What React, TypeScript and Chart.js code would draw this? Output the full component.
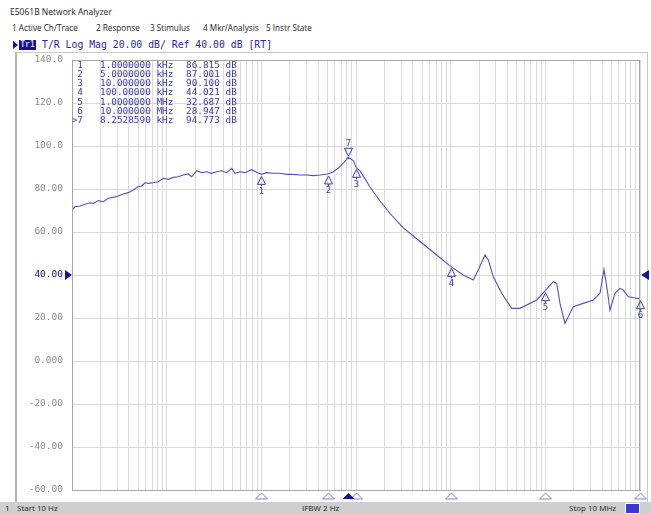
import React, { useEffect, useRef } from "react";
import { Chart, registerables } from "chart.js";

Chart.register(...registerables);

// ---------- data ----------
const freqHz = [
  10, 10.8, 12.1, 13.7, 15.5, 16.8, 19.0, 21.4, 24.2, 27.3, 30.8, 34.8, 39.3, 44.4, 50.1, 54.5, 59.0, 64.0, 72.2, 81.6,
  92.1, 104, 117.5, 132.7, 149.9, 169.2, 183.9, 207.6, 234.4, 264.7, 299, 337.7, 381.3, 430.6, 486.3, 526.9, 595.1, 672,
  791, 893, 1000, 1139, 1337, 1574, 1853, 2176, 2561, 3014, 3538, 4165, 5000, 5757, 6774, 7973, 8252.859, 9363, 10000,
  11020, 12450, 14050, 17920, 22860, 31600, 47430, 71170, 100000, 135900, 173400, 195700, 230400, 249700, 281900, 345900,
  441000, 539800, 810300, 1000000, 1214000, 1318000, 1428000, 1613000, 1974000, 2517000, 3210000, 3778000, 4165000,
  4512000, 4820000, 5441000, 6145000, 6658000, 7517000, 9222000, 10000000,
];
const magDb = [
  70.2, 71.8, 72.1, 72.9, 73.6, 73.3, 74.6, 74.1, 75.7, 76.1, 76.7, 77.7, 78.3, 79.5, 81.1, 81.4, 82.9, 82.6, 82.9, 83.4,
  85.0, 84.5, 85.4, 85.7, 86.5, 87.0, 85.7, 88.5, 87.6, 88.0, 87.3, 88.0, 88.5, 87.6, 89.6, 87.3, 88.0, 87.6,
  89.0, 87.8, 86.815, 87.6, 87.3, 87.3, 86.8, 86.8, 86.5, 86.5, 86.2, 86.5, 87.001, 88.0, 90.4, 93.8, 94.773, 93.2, 90.1,
  88.4, 84.7, 80.9, 74.4, 68.6, 61.9, 55.6, 49.3, 44.021, 40.0, 37.7, 42.3, 49.3, 47.0, 39.2, 31.5,
  24.5, 24.5, 28.4, 32.687, 36.9, 36.1, 26.8, 17.5, 25.3, 26.8, 28.4, 31.5, 42.6,
  33.0, 23.7, 31.5, 33.8, 33.0, 29.9, 29.2, 28.947,
];

const markerIds = ["1", "2", "3", "4", "5", "6", "7"];
const markerFreqs = [1000, 5000, 10000, 100000, 1000000, 10000000, 8252.859];
const markerValues = [86.815, 87.001, 90.1, 44.021, 32.687, 28.947, 94.773];
const activeMarker = "7";

const yTicks = [-60, -40, -20, 0, 20, 40, 60, 80, 100, 120, 140];
const yTickLabels = ["-60.00", "-40.00", "-20.00", "0.000", "20.00", "40.00", "60.00", "80.00", "100.0", "120.0", "140.0"];
const refLevel = 40;

const gridDecades = [10, 100, 1000, 10000, 100000, 1000000];
const gridMultipliers = [1, 2, 3, 4, 5, 6, 7, 8, 9];
const xMin = 10;
const xMax = 10000000;

const menuItems = ["1 Active Ch/Trace", "2 Response", "3 Stimulus", "4 Mkr/Analysis", "5 Instr State"];
const menuX = [12, 96, 150, 203, 266];

const TRACE = "#5252c4";
const MARK = "#3c3cb4";
const NAVY = "#14148c";
const MONO = "'DejaVu Sans Mono', monospace";
const SANS = "'Open Sans', 'Liberation Sans', sans-serif";

function fmtFreq(f: number): string {
  if (f >= 1e6) return (f / 1e6).toPrecision(8) + " MHz";
  if (f >= 1e3) return (f / 1e3).toPrecision(8) + " kHz";
  return f.toPrecision(8) + " Hz";
}

const markerPlugin = {
  id: "markers",
  afterDraw(chart: any) {
    const { ctx, chartArea, scales } = chart;
    const xs = scales.x;
    const ys = scales.y;
    ctx.save();
    // plot frame
    ctx.strokeStyle = "#a8a8a8";
    ctx.lineWidth = 1;
    ctx.strokeRect(chartArea.left + 0.5, chartArea.top + 0.5, chartArea.right - chartArea.left - 1, chartArea.bottom - chartArea.top);
    // reference level triangles
    const yRef = Math.round(ys.getPixelForValue(refLevel));
    ctx.fillStyle = NAVY;
    ctx.beginPath();
    ctx.moveTo(chartArea.left - 7, yRef - 5);
    ctx.lineTo(chartArea.left, yRef);
    ctx.lineTo(chartArea.left - 7, yRef + 5);
    ctx.closePath();
    ctx.fill();
    ctx.beginPath();
    ctx.moveTo(chartArea.right + 9, yRef - 5);
    ctx.lineTo(chartArea.right + 1, yRef);
    ctx.lineTo(chartArea.right + 9, yRef + 5);
    ctx.closePath();
    ctx.fill();

    ctx.font = `9px ${MONO}`;
    ctx.textAlign = "center";
    ctx.textBaseline = "middle";
    markerIds.forEach((id, i) => {
      const x = Math.round(xs.getPixelForValue(markerFreqs[i])) + 0.5;
      const y = ys.getPixelForValue(markerValues[i]);
      const active = id === activeMarker;
      ctx.strokeStyle = MARK;
      ctx.fillStyle = MARK;
      ctx.lineWidth = 1;
      if (active) {
        ctx.beginPath();
        ctx.moveTo(x - 4, y - 9);
        ctx.lineTo(x + 4, y - 9);
        ctx.lineTo(x, y - 1);
        ctx.closePath();
        ctx.stroke();
        ctx.fillText(id, x, y - 14);
      } else {
        ctx.beginPath();
        ctx.moveTo(x, y + 2);
        ctx.lineTo(x + 4, y + 10);
        ctx.lineTo(x - 4, y + 10);
        ctx.closePath();
        ctx.stroke();
        ctx.beginPath();
        ctx.moveTo(x, y + 10);
        ctx.lineTo(x, y + 12);
        ctx.stroke();
        ctx.fillText(id, x, y + 17);
      }
      // bottom stimulus triangles
      const by = chartArea.bottom + 9;
      ctx.beginPath();
      ctx.moveTo(x - 6, by);
      ctx.lineTo(x + 6, by);
      ctx.lineTo(x, by - 6);
      ctx.closePath();
      if (active) {
        ctx.fillStyle = NAVY;
        ctx.fill();
      } else {
        ctx.strokeStyle = "#8080d0";
        ctx.stroke();
      }
    });
    ctx.restore();
  },
};

export default function App() {
  const canvasRef = useRef<HTMLCanvasElement | null>(null);

  useEffect(() => {
    const canvas = canvasRef.current;
    if (!canvas) return;
    const gridFreqs: number[] = [];
    gridDecades.forEach((d) => gridMultipliers.forEach((m) => gridFreqs.push(d * m)));
    gridFreqs.push(xMax);

    const chart = new Chart(canvas, {
      type: "line",
      data: {
        datasets: [
          {
            data: freqHz.map((f, i) => ({ x: f, y: magDb[i] })),
            borderColor: TRACE,
            borderWidth: 1.1,
            pointRadius: 0,
            tension: 0,
            fill: false,
          },
        ],
      },
      options: {
        animation: false,
        responsive: false,
        devicePixelRatio: 1,
        layout: { padding: { left: 0, top: 60, right: 11, bottom: 24 } },
        plugins: { legend: { display: false }, tooltip: { enabled: false } },
        scales: {
          x: {
            type: "logarithmic",
            min: xMin,
            max: xMax,
            afterBuildTicks: (s: any) => {
              s.ticks = gridFreqs.map((v) => ({ value: v }));
            },
            afterFit: (s: any) => {
              s.height = 0;
            },
            ticks: { display: false, autoSkip: false },
            grid: { color: "#dadada", drawTicks: false, lineWidth: 1 },
            border: { color: "#a8a8a8" },
          },
          y: {
            type: "linear",
            min: -60,
            max: 140,
            afterBuildTicks: (s: any) => {
              s.ticks = yTicks.map((v) => ({ value: v }));
            },
            afterFit: (s: any) => {
              s.width = 72;
            },
            ticks: {
              autoSkip: false,
              padding: 9,
              font: { family: MONO, size: 9.5 },
              color: (c: any) => (c.tick && c.tick.value === refLevel ? NAVY : "#8c8c8c"),
              callback: (_v: any, i: number) => yTickLabels[i],
            },
            grid: { color: "#dadada", drawTicks: false },
            border: { color: "#a8a8a8" },
          },
        },
      },
      plugins: [markerPlugin],
    });
    return () => chart.destroy();
  }, []);

  const rowTop = (i: number) => 60 + i * 9.15;

  return (
    <div
      style={{
        position: "absolute",
        left: 0,
        top: 0,
        width: 651,
        height: 514,
        background: "#ffffff",
        overflow: "hidden",
      }}
    >
      <div style={{ position: "absolute", left: 10, top: 6, font: `8.5px ${SANS}`, color: "#222", whiteSpace: "nowrap" }}>
        E5061B Network Analyzer
      </div>
      {menuItems.map((m, i) => (
        <div
          key={m}
          style={{ position: "absolute", left: menuX[i], top: 22, font: `8.2px ${SANS}`, color: "#222", whiteSpace: "nowrap" }}
        >
          {m}
        </div>
      ))}
      {/* frame */}
      <div
        style={{
          position: "absolute",
          left: 15,
          top: 52,
          width: 633,
          height: 450,
          borderLeft: "2px solid #b4b4b4",
          borderTop: "1px solid #c8c8c8",
          borderRight: "1px solid #c8c8c8",
          boxSizing: "border-box",
        }}
      />
      {/* trace header */}
      <div
        style={{
          position: "absolute",
          left: 13,
          top: 41,
          width: 0,
          height: 0,
          borderTop: "4px solid transparent",
          borderBottom: "4px solid transparent",
          borderLeft: `5px solid ${NAVY}`,
        }}
      />
      <div
        style={{
          position: "absolute",
          left: 19,
          top: 40,
          width: 17,
          height: 10,
          background: NAVY,
          color: "#c8c8ff",
          font: `bold 8px ${MONO}`,
          lineHeight: "10px",
          textAlign: "center",
        }}
      >
        Tr1
      </div>
      <div
        style={{
          position: "absolute",
          left: 42,
          top: 39,
          font: `9.8px ${MONO}`,
          color: "#2a2aa8",
          whiteSpace: "pre",
          lineHeight: "12px",
        }}
      >
        T/R Log Mag 20.00 dB/ Ref 40.00 dB [RT]
      </div>

      <canvas
        ref={canvasRef}
        width={651}
        height={514}
        style={{ position: "absolute", left: 0, top: 0, width: 651, height: 514 }}
      />

      {/* marker table */}
      {markerIds.map((id, i) => (
        <React.Fragment key={id}>
          <div
            style={{
              position: "absolute",
              left: 60,
              width: 23,
              top: rowTop(i),
              textAlign: "right",
              font: `9.4px ${MONO}`,
              lineHeight: "10px",
              color: MARK,
              whiteSpace: "pre",
            }}
          >
            {(id === activeMarker ? ">" : "") + id}
          </div>
          <div
            style={{
              position: "absolute",
              left: 100,
              top: rowTop(i),
              font: `9.4px ${MONO}`,
              lineHeight: "10px",
              color: MARK,
              whiteSpace: "pre",
            }}
          >
            {fmtFreq(markerFreqs[i])}
          </div>
          <div
            style={{
              position: "absolute",
              left: 186,
              top: rowTop(i),
              font: `9.4px ${MONO}`,
              lineHeight: "10px",
              color: MARK,
              whiteSpace: "pre",
            }}
          >
            {markerValues[i].toFixed(3) + " dB"}
          </div>
        </React.Fragment>
      ))}

      {/* status bar */}
      <div
        style={{
          position: "absolute",
          left: 0,
          top: 502,
          width: 651,
          height: 12,
          background: "#cfcfcf",
          font: `8px ${SANS}`,
          color: "#222",
          lineHeight: "12px",
        }}
      >
        <span style={{ position: "absolute", left: 5 }}>1</span>
        <span style={{ position: "absolute", left: 17 }}>Start 10 Hz</span>
        <span style={{ position: "absolute", left: 302 }}>IFBW 2 Hz</span>
        <span style={{ position: "absolute", left: 569 }}>Stop 10 MHz</span>
        <span
          style={{
            position: "absolute",
            left: 625,
            top: 1,
            width: 15,
            height: 11,
            background: "#3a3ad0",
            boxSizing: "border-box",
            border: "1px solid #ffffff",
          }}
        />
      </div>
    </div>
  );
}
